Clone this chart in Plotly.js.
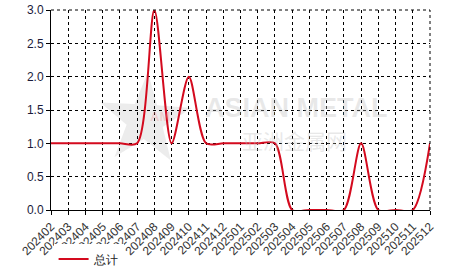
<!DOCTYPE html>
<html>
<head>
<meta charset="utf-8">
<script src="https://cdn.plot.ly/plotly-3.0.1.min.js"></script>
<style>html,body{margin:0;padding:0;background:#fff;}#chart{width:466px;height:272px;}</style>
</head>
<body>
<div id="chart"></div>
<script>
var months = ["202402","202403","202404","202405","202406","202407","202408","202409","202410","202411","202412","202501","202502","202503","202504","202505","202506","202507","202508","202509","202510","202511","202512"];
var totals = [1,1,1,1,1,1,3,1,2,1,1,1,1,1,0,0,0,0,1,0,0,0,1];
var seriesName = "总计";
var yTicks = [0,0.5,1,1.5,2,2.5,3];

var W = 466, H = 272, ML = 51, MR = 36, MT = 10, MB = 62;
var PW = W - ML - MR, PH = H - MT - MB;
function px2paper(x, y) { return [(x - ML) / PW, (H - MB - y) / PH]; }

// faint star logo of the watermark
function starPath(cx, cy, ro, ri, rot) {
  var d = "";
  for (var i = 0; i < 10; i++) {
    var r = (i % 2 === 0) ? ro : ri;
    var a = rot + i * Math.PI / 5;
    var p = px2paper(cx + r * Math.sin(a), cy - r * Math.cos(a));
    d += (i === 0 ? "M" : "L") + p[0].toFixed(4) + "," + p[1].toFixed(4);
  }
  return d + "Z";
}

var trace = {
  x: months, y: totals, type: "scatter", mode: "lines", name: seriesName,
  line: {color: "#d40a1e", width: 2, shape: "spline", smoothing: 0.8},
  hoverinfo: "x+y"
};
var fam = "Liberation Sans, Arial, sans-serif";
var wm1 = px2paper(296, 108), wm2 = px2paper(294, 136), wmA = px2paper(148, 117);
var layout = {
  width: W, height: H,
  margin: {l: ML, r: MR, t: MT, b: MB},
  paper_bgcolor: "#fff", plot_bgcolor: "#fff",
  font: {family: fam, size: 12, color: "#222"},
  showlegend: true,
  legend: {orientation: "h", xref: "container", yref: "container", x: 0.115, xanchor: "left", y: 0.048, yanchor: "middle",
           font: {family: fam, size: 12, color: "#222"}},
  xaxis: {
    type: "category", range: [0, 22], tickangle: -45, automargin: false,
    showgrid: true, gridcolor: "#000", griddash: "dot", gridwidth: 1,
    showline: true, linecolor: "#000", linewidth: 1,
    ticks: "outside", ticklen: 4, tickcolor: "#000",
    tickfont: {family: fam, size: 12, color: "#333"},
    zeroline: false, fixedrange: true
  },
  yaxis: {
    range: [0, 3], tickvals: yTicks, tickformat: ".1f", automargin: false,
    showgrid: true, gridcolor: "#000", griddash: "dot", gridwidth: 1,
    showline: true, linecolor: "#000", linewidth: 1,
    ticks: "outside", ticklen: 4, tickcolor: "#000",
    tickfont: {family: fam, size: 12, color: "#1a1a3a"},
    zeroline: false, fixedrange: true
  },
  shapes: [
    {type: "path", xref: "paper", yref: "paper", layer: "below", path: starPath(145, 120, 48, 19, 0.06),
     fillcolor: "rgba(200,200,200,0.35)", line: {width: 0}},
    {type: "line", xref: "paper", yref: "paper", x0: 1, x1: 1, y0: 0, y1: 1, line: {color: "#000", width: 1, dash: "dot"}},
    {type: "line", xref: "paper", yref: "paper", x0: 0, x1: 1, y0: 1, y1: 1, line: {color: "#000", width: 1, dash: "dot"}}
  ],
  annotations: [
    {xref: "paper", yref: "paper", x: wm1[0], y: wm1[1], text: "<b>ASIAN METAL</b>", showarrow: false,
     font: {family: fam, size: 27, color: "rgba(190,190,190,0.35)"}},
    {xref: "paper", yref: "paper", x: wm2[0], y: wm2[1] - 0.02, text: "亚洲金属网", showarrow: false,
     font: {family: "Noto Sans CJK SC, sans-serif", size: 21, color: "rgba(190,190,190,0.35)"}},
    {xref: "paper", yref: "paper", x: wmA[0], y: wmA[1], text: "<b>AM</b>", showarrow: false,
     font: {family: fam, size: 13, color: "rgba(240,150,150,0.35)"}}
  ]
};
Plotly.newPlot("chart", [trace], layout, {displayModeBar: false, staticPlot: true});
</script>
</body>
</html>
